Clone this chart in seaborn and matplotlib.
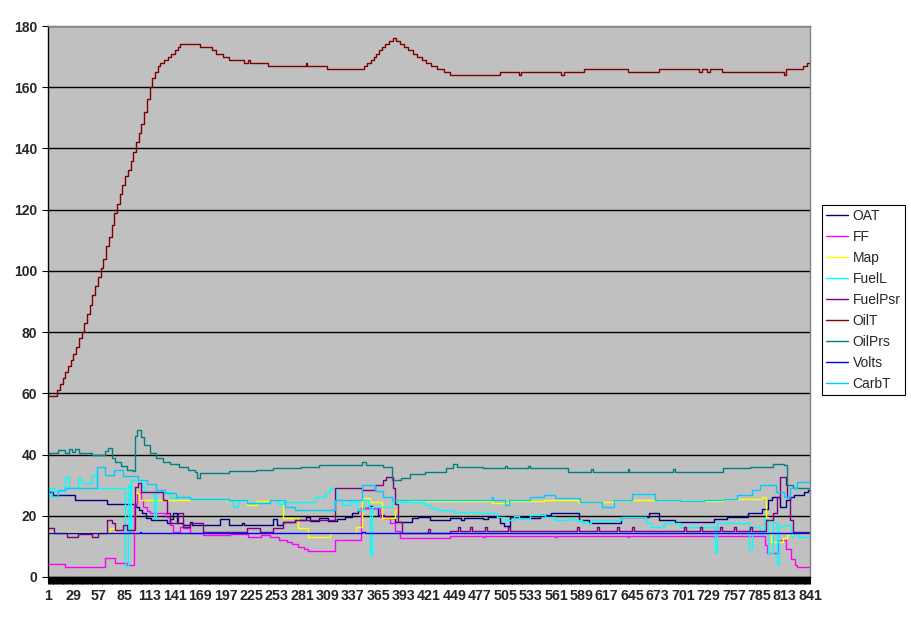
#engine log chart
import pandas as pd
import matplotlib
matplotlib.use('Agg')
import matplotlib.pyplot as plt
from matplotlib.lines import Line2D
from matplotlib.ticker import MultipleLocator
import seaborn as sns
import warnings
warnings.filterwarnings('ignore')

series_names = ['OAT', 'FF', 'Map', 'FuelL', 'FuelPsr', 'OilT', 'OilPrs', 'Volts', 'CarbT']
series_colors = ['#000080', '#FF00FF', '#FFFF00', '#00FFFF', '#800080',
                 '#800000', '#008080', '#0000FF', '#00CCFF']
x_labels = list(range(1, 842, 28))

# each series: sample index where a new value starts, and that value
oat_x = [1, 6, 31, 66, 98, 101, 105, 109, 115, 132, 136, 139, 143, 150, 157, 160, 191, 201, 215, 217,
         249, 253, 260, 273, 285, 290, 300, 310, 320, 328, 336, 343, 347, 355, 358, 365, 371, 384, 402, 409,
         422, 444, 456, 460, 480, 486, 499, 504, 510, 532, 543, 555, 586, 597, 633, 663, 674, 692, 735, 749,
         773, 788, 795, 799, 808, 815, 819, 823, 834, 839, 841]
oat_y = [27.9, 26.8, 25.2, 23.7, 23.0, 21.9, 20.8, 19.2, 18.6, 17.5, 19.0, 21.0, 17.6, 17.0, 18.0, 17.0, 18.8, 17.0, 17.8, 17.0,
         18.8, 17.0, 18.0, 18.5, 19.5, 18.2, 19.2, 18.4, 19.0, 19.7, 20.8, 21.9, 22.5, 23.2, 22.5, 20.2, 19.2, 18.0, 19.2, 19.7,
         18.6, 19.4, 18.5, 19.4, 18.8, 19.6, 17.5, 16.8, 19.7, 19.2, 20.2, 20.8, 18.6, 17.6, 19.7, 20.8, 18.6, 18.0, 18.9, 19.7,
         20.8, 22.1, 25.2, 26.2, 23.0, 25.2, 26.2, 26.8, 27.9, 28.4, 28.4]

ff_x = [1, 20, 64, 75, 88, 96, 99, 103, 106, 110, 113, 131, 136, 139, 146, 150, 158, 172, 202, 222,
        236, 246, 256, 264, 270, 277, 283, 288, 317, 346, 367, 378, 384, 389, 444, 480, 483, 560, 562, 640,
        642, 791, 794, 806, 815, 820, 824, 827, 841]
ff_y = [4.2, 3.4, 6.1, 4.5, 3.9, 24.0, 27.4, 25.0, 23.0, 21.5, 20.9, 19.7, 17.0, 14.8, 16.4, 16.0, 14.5, 13.7, 14.0, 13.2,
        13.7, 13.2, 12.1, 11.5, 10.8, 9.9, 9.3, 8.5, 12.1, 22.5, 19.7, 17.5, 15.0, 12.7, 13.5, 13.0, 13.5, 13.0, 13.5, 13.0,
        13.5, 10.5, 7.8, 12.0, 9.0, 6.0, 3.9, 3.4, 3.4]

map_x = [1, 69, 75, 97, 99, 101, 157, 198, 220, 231, 246, 260, 277, 288, 312, 340, 347, 356, 369, 384,
         387, 400, 490, 508, 548, 585, 626, 697, 745, 788, 792, 795, 798, 811, 816, 822, 841]
map_y = [14.8, 16.0, 14.4, 27.9, 27.4, 25.0, 25.5, 25.1, 23.5, 24.8, 25.2, 19.3, 16.0, 13.0, 14.5, 16.4, 25.7, 24.6, 19.2, 22.0,
         25.2, 24.8, 24.2, 24.8, 25.2, 24.4, 25.2, 24.9, 25.5, 26.2, 19.7, 14.3, 11.5, 12.7, 13.7, 14.3, 14.0]

fuell_x = [1, 2, 9, 20, 24, 34, 37, 50, 55, 86, 89, 91, 93, 105, 108, 118, 120, 135, 142, 157,
           200, 205, 210, 220, 246, 255, 260, 295, 306, 312, 318, 325, 335, 342, 349, 355, 356, 358, 380, 416,
           422, 430, 448, 474, 496, 505, 515, 520, 532, 549, 560, 574, 580, 590, 600, 633, 660, 666, 680, 698,
           736, 739, 774, 777, 786, 790, 795, 800, 805, 807, 812, 820, 823, 828, 841]
fuell_y = [25.7, 29.0, 28.0, 32.8, 29.0, 32.2, 30.7, 33.3, 29.0, 3.5, 30.0, 14.5, 31.7, 29.5, 27.9, 19.2, 27.9, 25.8, 26.0, 25.4,
           25.0, 23.0, 25.0, 24.2, 25.2, 24.0, 24.6, 26.2, 27.9, 29.0, 25.2, 23.5, 24.5, 22.0, 25.0, 23.0, 7.2, 23.0, 24.6, 23.5,
           22.5, 21.9, 21.3, 20.8, 19.7, 18.6, 19.8, 18.8, 20.2, 19.7, 18.6, 19.2, 18.6, 17.6, 18.6, 19.7, 17.6, 16.4, 17.6, 16.4,
           8.3, 17.6, 9.0, 16.4, 14.0, 19.0, 8.0, 18.0, 4.4, 16.8, 17.0, 13.5, 14.8, 13.2, 13.2]

fuelpsr_x = [1, 8, 22, 34, 49, 56, 66, 72, 75, 84, 88, 97, 100, 103, 128, 132, 135, 144, 150, 158,
             172, 220, 235, 249, 260, 273, 317, 347, 362, 370, 374, 381, 384, 387, 391, 420, 422, 444, 453, 455,
             466, 468, 483, 485, 508, 510, 584, 586, 606, 608, 628, 630, 645, 647, 702, 704, 720, 722, 742, 744,
             757, 759, 775, 777, 786, 792, 800, 805, 808, 814, 816, 819, 822, 841]
fuelpsr_y = [15.9, 14.3, 13.2, 14.0, 13.2, 14.3, 18.6, 17.5, 15.4, 17.0, 15.4, 29.5, 30.6, 27.9, 25.2, 20.8, 17.5, 21.0, 16.4, 17.5,
             14.8, 15.9, 14.8, 15.9, 18.0, 18.6, 29.0, 28.5, 30.0, 31.7, 32.8, 29.0, 24.0, 18.0, 14.3, 15.8, 14.3, 15.0, 16.4, 15.0,
             16.4, 15.0, 16.4, 15.0, 16.4, 15.0, 16.4, 15.0, 16.4, 15.0, 16.4, 15.0, 16.4, 15.0, 16.4, 15.0, 16.4, 15.0, 16.4, 15.0,
             16.4, 15.0, 16.4, 15.0, 15.0, 18.6, 20.8, 26.2, 32.8, 30.0, 26.0, 18.6, 14.8, 14.3]

oilt_x = [1, 11, 14, 17, 20, 23, 26, 29, 32, 35, 38, 41, 44, 47, 50, 53, 56, 59, 62, 65,
          68, 71, 74, 77, 80, 83, 86, 89, 92, 95, 98, 101, 104, 107, 110, 113, 116, 119, 122, 125,
          129, 133, 137, 141, 144, 147, 169, 182, 186, 194, 201, 217, 222, 224, 243, 285, 287, 309, 349, 353,
          357, 360, 363, 366, 369, 372, 377, 381, 385, 389, 393, 398, 403, 408, 413, 418, 423, 430, 437, 444,
          499, 520, 522, 567, 570, 592, 640, 675, 719, 722, 727, 731, 744, 812, 815, 833, 838, 841]
oilt_y = [59, 61, 63, 65, 67, 69, 71, 73, 75, 78, 80, 83, 86, 89, 92, 95, 98, 101, 104, 108,
          111, 115, 119, 122, 125, 128, 131, 133, 136, 139, 142, 145, 148, 152, 156, 160, 163, 165, 167, 168,
          169, 170, 171, 172, 173, 174, 173, 172, 171, 170, 169, 168, 169, 168, 167, 168, 167, 166, 167, 168,
          169, 170, 171, 172, 173, 174, 175, 176, 175, 174, 173, 172, 171, 170, 169, 168, 167, 166, 165, 164,
          165, 164, 165, 164, 165, 166, 165, 166, 165, 166, 165, 166, 165, 164, 166, 167, 168, 168]

oilprs_x = [1, 12, 20, 24, 28, 31, 35, 50, 56, 64, 67, 71, 75, 82, 88, 95, 97, 99, 103, 107,
            113, 120, 128, 135, 145, 155, 163, 165, 169, 200, 230, 249, 280, 300, 347, 352, 370, 380, 390, 400,
            417, 440, 448, 452, 480, 505, 507, 530, 532, 574, 600, 602, 640, 642, 690, 692, 745, 775, 800, 812,
            816, 822, 841]
oilprs_y = [40.4, 41.5, 40.4, 41.7, 40.8, 41.7, 40.4, 40.0, 39.7, 41.0, 42.2, 38.9, 37.5, 36.3, 35.0, 34.5, 46.0, 48.0, 45.8, 43.0,
            40.5, 39.0, 37.7, 37.0, 36.0, 35.0, 34.4, 32.3, 34.0, 34.5, 35.0, 35.6, 36.0, 36.6, 37.7, 36.6, 36.0, 31.7, 32.5, 33.5,
            34.4, 35.5, 37.0, 36.0, 35.6, 36.4, 35.6, 36.4, 35.6, 34.4, 35.2, 34.4, 35.2, 34.4, 35.2, 34.4, 35.5, 36.0, 36.9, 36.5,
            30.0, 29.0, 29.0]

volts_x = [1, 102, 104, 347, 350, 841]
volts_y = [14.3, 14.6, 14.3, 14.8, 14.3, 14.3]

carbt_x = [1, 5, 12, 20, 55, 64, 74, 84, 100, 110, 120, 130, 142, 157, 200, 220, 246, 262, 273, 317,
           347, 362, 370, 380, 490, 492, 505, 509, 532, 548, 560, 588, 612, 625, 645, 670, 698, 724, 746, 760,
           777, 786, 803, 812, 819, 827, 841]
carbt_y = [28.0, 26.5, 28.5, 29.0, 35.8, 33.3, 35.0, 33.0, 31.7, 30.5, 28.5, 27.5, 26.2, 25.5, 25.2, 24.2, 25.0, 23.0, 21.9, 25.2,
           30.0, 28.0, 26.0, 25.2, 26.0, 25.2, 23.5, 25.2, 26.2, 26.8, 25.7, 24.6, 22.8, 25.2, 27.1, 25.2, 24.8, 25.2, 25.5, 26.8,
           28.4, 30.0, 27.9, 26.2, 29.0, 31.1, 31.7]

all_x = [oat_x, ff_x, map_x, fuell_x, fuelpsr_x, oilt_x, oilprs_x, volts_x, carbt_x]
all_y = [oat_y, ff_y, map_y, fuell_y, fuelpsr_y, oilt_y, oilprs_y, volts_y, carbt_y]

frames = []
for name, xs, ys in zip(series_names, all_x, all_y):
    frames.append(pd.DataFrame({'Sample': xs, 'Value': ys, 'Series': name}))
log = pd.concat(frames, ignore_index=True)

sns.set_theme(style='white')
plt.rcParams['font.family'] = ['Liberation Sans', 'DejaVu Sans']

fig = plt.figure(figsize=(9.11, 6.23), dpi=100)
ax = fig.add_axes([48 / 911, 46 / 623, 762 / 911, 551 / 623])
ax.set_facecolor('#C0C0C0')

sns.lineplot(data=log, x='Sample', y='Value', hue='Series', hue_order=series_names,
             palette=series_colors, estimator=None, sort=True, drawstyle='steps-post',
             linewidth=1.0, legend=False, ax=ax)

ax.set_xlim(1, 841)
ax.set_ylim(0, 180)
ax.set_xlabel('')
ax.set_ylabel('')
ax.set_yticks(range(0, 181, 20))
ax.set_xticks(x_labels)
ax.xaxis.set_minor_locator(MultipleLocator(1))
ax.grid(axis='y', color='black', linewidth=1.0)
ax.grid(axis='x', visible=False)

ax.tick_params(axis='x', which='both', direction='out', length=5, width=0.8, color='black',
               bottom=True, labelsize=10.3, pad=4)
ax.tick_params(axis='y', which='major', direction='out', length=4, width=0.8, color='black',
               left=True, labelsize=10, pad=4)
for lab in ax.get_xticklabels() + ax.get_yticklabels():
    lab.set_fontweight('bold')

for side in ['top', 'right']:
    ax.spines[side].set_color('#808080')
    ax.spines[side].set_linewidth(1.0)
for side in ['left', 'bottom']:
    ax.spines[side].set_color('black')
    ax.spines[side].set_linewidth(1.0)

handles = [Line2D([0], [0], color=c, linewidth=1.0) for c in series_colors]
leg = fig.legend(handles, series_names, loc='upper left', bbox_to_anchor=(822 / 911, 1 - 205 / 623),
                 frameon=True, fancybox=False, framealpha=1, edgecolor='black', facecolor='white',
                 fontsize=10, handlelength=1.55, handletextpad=0.35, labelspacing=0.5,
                 borderpad=0.3, borderaxespad=0)
leg.get_frame().set_linewidth(0.8)

fig.savefig('out.png', dpi=100, facecolor='white')
